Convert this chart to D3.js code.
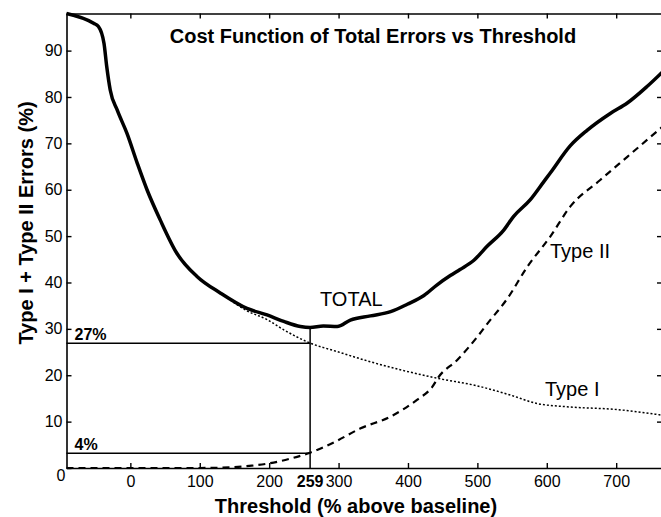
<!DOCTYPE html>
<html>
<head>
<meta charset="utf-8">
<script src="https://cdn.jsdelivr.net/npm/d3@7"></script>
<style>
  html, body { margin: 0; padding: 0; background: #fff; }
  svg { display: block; font-family: "Liberation Sans", Arial, sans-serif; }
</style>
</head>
<body>
<svg id="chart"></svg>
<script>
// Total error curve (threshold % above baseline -> %)
const totalX = [-92, -53, -46, -38, -34, -29, -19, -5, 10, 24, 43, 67, 96, 130, 168, 197, 221, 245, 259, 278, 298, 317, 346, 375, 399, 423, 442, 461, 475, 495, 514, 538, 552, 576, 596, 605, 634, 658, 692, 716, 744, 766];
const totalY = [98, 95.9, 95.2, 91.6, 86.5, 81.5, 77.2, 72.2, 65.7, 60, 53.5, 46.3, 41.3, 37.7, 34.4, 33, 31.6, 30.5, 30.3, 30.6, 30.5, 31.9, 32.8, 33.7, 35.3, 37.2, 39.5, 41.5, 42.8, 44.8, 47.8, 51.3, 54.2, 57.8, 61.8, 63.6, 69.5, 72.8, 76.5, 78.7, 82.2, 85.3];

// Type I errors (dotted)
const typeIX = [-92, -53, -46, -38, -34, -29, -19, -5, 10, 24, 43, 67, 96, 130, 168, 197, 221, 258, 298, 346, 394, 444, 500, 548, 586, 629, 701, 766];
const typeIY = [98, 95.9, 95.2, 91.6, 86.5, 81.5, 77.2, 72.2, 65.7, 60, 53.5, 46.3, 41.3, 37.7, 33.9, 32, 29.8, 27, 25.1, 22.9, 21, 19.3, 17.7, 15.7, 13.9, 13.2, 12.6, 11.4];

// Type II errors (dashed)
const typeIIX = [-92, 0, 100, 150, 175, 200, 230, 259, 293, 331, 375, 413, 435, 444, 471, 500, 519, 533, 543, 572, 605, 634, 677, 716, 766];
const typeIIY = [0, 0, 0, 0.2, 0.5, 1.0, 2.0, 3.3, 5.5, 8.5, 11.1, 14.7, 17.5, 19.6, 23.3, 28.3, 32, 34.5, 36.5, 43.4, 49.9, 56.4, 62.1, 67.1, 73.5];

const xTicks = [0, 100, 200, 300, 400, 500, 600, 700];
const yTicks = [0, 10, 20, 30, 40, 50, 60, 70, 80, 90];

// chosen threshold and the error levels marked at it
const optThreshold = 259;
const optTotal = 30.4;
const refLevels = [26.9, 3.2];
const refLabels = ['27%', '4%'];

const width = 661;
const height = 517;
const margin = { top: 13.5, right: -1, bottom: 49, left: 66.5 };
const contentWidth = width - margin.left - margin.right;
const contentHeight = height - margin.top - margin.bottom;

const svg = d3.select('#chart')
  .attr('width', width)
  .attr('height', height);

const chart = svg.append('g')
  .attr('transform', `translate(${margin.left},${margin.top})`);

const x = d3.scaleLinear().domain([-92, 766]).range([0, contentWidth]);
const y = d3.scaleLinear().domain([0, 98]).range([contentHeight, 0]);

const zip = (xs, ys) => xs.map((v, i) => [v, ys[i]]);
const line = d3.line()
  .x(d => x(d[0]))
  .y(d => y(d[1]))
  .curve(d3.curveMonotoneX);

// frame axes
const styleAxis = g => {
  g.select('.domain').attr('stroke-width', 1.6);
  g.selectAll('.tick line').attr('stroke-width', 1.4);
  g.selectAll('text').attr('font-size', 16).attr('fill', '#000');
};

chart.append('g')
  .attr('transform', `translate(0,${contentHeight})`)
  .call(d3.axisBottom(x).tickValues(xTicks).tickSize(-5).tickSizeOuter(0).tickPadding(8))
  .call(styleAxis);

chart.append('g')
  .call(d3.axisTop(x).tickValues(xTicks).tickSize(-5).tickSizeOuter(0).tickFormat(''))
  .call(styleAxis);

const yAxis = chart.append('g')
  .call(d3.axisLeft(y).tickValues(yTicks).tickSize(-5).tickSizeOuter(0).tickPadding(4))
  .call(styleAxis);
yAxis.selectAll('.tick')
  .filter(d => d === 0)
  .select('text')
  .attr('y', 7)
  .attr('x', -1);

chart.append('g')
  .attr('transform', `translate(${contentWidth},0)`)
  .call(d3.axisRight(y).tickValues(yTicks.slice(1)).tickSize(-5).tickSizeOuter(0).tickFormat(''))
  .call(styleAxis);

// bold 259 label under the axis
chart.append('text')
  .attr('x', x(optThreshold))
  .attr('y', contentHeight + 8)
  .attr('dy', '0.71em')
  .attr('text-anchor', 'middle')
  .attr('font-size', 16)
  .attr('font-weight', 'bold')
  .text(optThreshold);

// reference lines
chart.append('line')
  .attr('x1', x(optThreshold)).attr('x2', x(optThreshold))
  .attr('y1', y(0)).attr('y2', y(optTotal))
  .attr('stroke', '#000').attr('stroke-width', 1.5);

refLevels.forEach((lv, i) => {
  chart.append('line')
    .attr('x1', x(-92)).attr('x2', x(optThreshold))
    .attr('y1', y(lv)).attr('y2', y(lv))
    .attr('stroke', '#000').attr('stroke-width', 1.5);
  chart.append('text')
    .attr('x', x(-92) + 8)
    .attr('y', y(lv) - 3)
    .attr('font-size', 16)
    .attr('font-weight', 'bold')
    .text(refLabels[i]);
});

// curves
chart.append('path')
  .datum(zip(typeIX, typeIY))
  .attr('d', line)
  .attr('fill', 'none')
  .attr('stroke', '#000')
  .attr('stroke-width', 1.5)
  .attr('stroke-dasharray', '2,2');

chart.append('path')
  .datum(zip(typeIIX, typeIIY))
  .attr('d', line)
  .attr('fill', 'none')
  .attr('stroke', '#000')
  .attr('stroke-width', 2.2)
  .attr('stroke-dasharray', '7,5');

chart.append('path')
  .datum(zip(totalX, totalY))
  .attr('d', line)
  .attr('fill', 'none')
  .attr('stroke', '#000')
  .attr('stroke-width', 3.5)
  .attr('stroke-linejoin', 'round');

// series labels
const seriesLabel = (txt, px, py) => svg.append('text')
  .attr('x', px).attr('y', py)
  .attr('font-size', 20)
  .text(txt);
seriesLabel('TOTAL', 320, 306);
seriesLabel('Type II', 550, 258);
seriesLabel('Type I', 545, 396);

// title and axis titles
svg.append('text')
  .attr('x', 373).attr('y', 43)
  .attr('text-anchor', 'middle')
  .attr('font-size', 20)
  .attr('font-weight', 'bold')
  .text('Cost Function of Total Errors vs Threshold');

svg.append('text')
  .attr('x', 356).attr('y', 513)
  .attr('text-anchor', 'middle')
  .attr('font-size', 20)
  .attr('font-weight', 'bold')
  .text('Threshold (% above baseline)');

svg.append('text')
  .attr('transform', 'translate(33,223) rotate(-90)')
  .attr('text-anchor', 'middle')
  .attr('font-size', 20)
  .attr('font-weight', 'bold')
  .text('Type I + Type II Errors (%)');
</script>
</body>
</html>
